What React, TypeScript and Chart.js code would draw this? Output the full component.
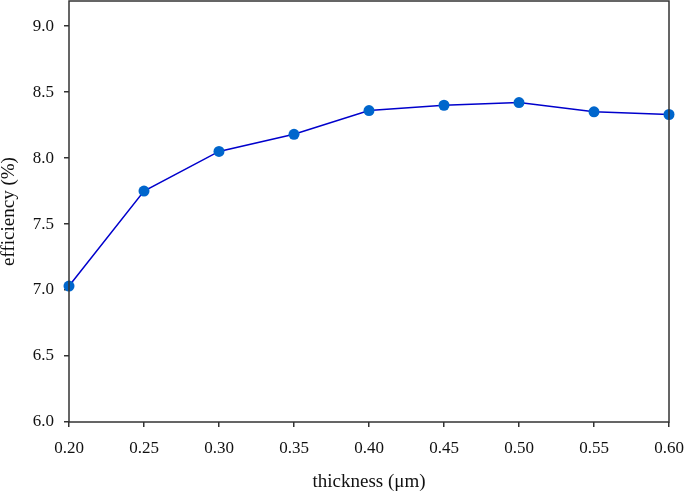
import React, { useEffect, useRef } from "react";
import { Chart, registerables } from "chart.js";

Chart.register(...registerables);

const thickness = [0.2, 0.25, 0.3, 0.35, 0.4, 0.45, 0.5, 0.55, 0.6];
const efficiency = [7.03, 7.75, 8.05, 8.18, 8.36, 8.4, 8.42, 8.35, 8.33];
const yTicks = [6.0, 6.5, 7.0, 7.5, 8.0, 8.5, 9.0];
const xTicks = [0.2, 0.25, 0.3, 0.35, 0.4, 0.45, 0.5, 0.55, 0.6];

const FONT = "'Liberation Serif', 'Times New Roman', serif";

const boxPlugin = {
  id: "box",
  afterDraw(chart: any) {
    const { ctx, chartArea } = chart;
    ctx.save();
    ctx.strokeStyle = "#333333";
    ctx.lineWidth = 1.5;
    ctx.strokeRect(chartArea.left, chartArea.top, chartArea.right - chartArea.left, chartArea.bottom - chartArea.top);
    ctx.restore();
  },
};

const zeroPad = (s: any) => {
  s.paddingTop = 0;
  s.paddingBottom = 0;
  s.paddingLeft = 0;
  s.paddingRight = 0;
};

export default function App() {
  const ref = useRef<HTMLCanvasElement>(null);
  useEffect(() => {
    const chart = new Chart(ref.current!, {
      type: "line",
      data: {
        datasets: [
          {
            data: thickness.map((x, i) => ({ x, y: efficiency[i] })),
            borderColor: "#0000CC",
            borderWidth: 1.5,
            pointBackgroundColor: "#0066CC",
            pointBorderColor: "#0066CC",
            pointRadius: 5.5,
            pointBorderWidth: 0,
            tension: 0,
            clip: false as any,
          },
        ],
      },
      options: {
        animation: false,
        responsive: false,
        layout: { autoPadding: false, padding: { left: 0, right: 15, top: 1, bottom: 0 } },
        plugins: { legend: { display: false }, tooltip: { enabled: false } },
        scales: {
          x: {
            type: "linear",
            min: 0.2,
            max: 0.6,
            afterBuildTicks: (s: any) => {
              s.ticks = xTicks.map((v) => ({ value: v }));
            },
            afterFit: (s: any) => {
              s.height = 70;
              zeroPad(s);
            },
            grid: { drawOnChartArea: false, drawTicks: true, tickLength: 5, color: "#333333", lineWidth: 1.5 },
            border: { display: false },
            ticks: {
              color: "#111111",
              padding: 11,
              maxRotation: 0,
              font: { family: FONT, size: 17 },
              callback: (v: any) => Number(v).toFixed(2),
            },
            title: {
              display: true,
              text: "thickness (μm)",
              color: "#111111",
              font: { family: FONT, size: 19, lineHeight: 1 },
              padding: { top: 0, bottom: 0 },
            },
          },
          y: {
            type: "linear",
            min: 6.0,
            max: 9.19,
            afterBuildTicks: (s: any) => {
              s.ticks = yTicks.map((v) => ({ value: v }));
            },
            afterFit: (s: any) => {
              s.width = 69;
              zeroPad(s);
            },
            grid: { drawOnChartArea: false, drawTicks: true, tickLength: 5, color: "#333333", lineWidth: 1.5 },
            border: { display: false },
            ticks: {
              color: "#111111",
              padding: 10,
              font: { family: FONT, size: 17 },
              callback: (v: any) => Number(v).toFixed(1),
            },
            title: {
              display: true,
              text: "efficiency (%)",
              color: "#111111",
              font: { family: FONT, size: 19, lineHeight: 1 },
              padding: { top: 0, bottom: 0 },
            },
          },
        },
      },
      plugins: [boxPlugin],
    });
    return () => chart.destroy();
  }, []);
  return (
    <div style={{ position: "fixed", left: 0, top: 0, width: 684, height: 492, background: "#fff" }}>
      <canvas ref={ref} width={684} height={492} />
    </div>
  );
}
